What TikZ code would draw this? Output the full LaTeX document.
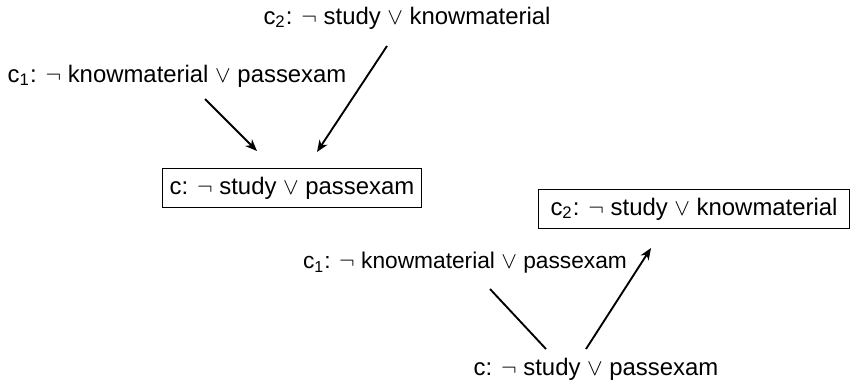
\documentclass[tikz,border=0pt]{standalone}
\usepackage{fontspec}
\setmainfont{Liberation Sans}
\usetikzlibrary{arrows.meta}
\begin{document}
\begin{tikzpicture}[x=0.015cm,y=-0.015cm,
  clause/.style={inner sep=0pt,font=\fontsize{10.2}{12}\selectfont},
  boxed/.style={clause,draw,line width=0.45pt,inner xsep=3pt,inner ysep=3.6pt},
  link/.style={line width=0.8pt},
  arr/.style={link,-{Stealth[length=5pt,width=4pt,inset=1.5pt]}}]
\useasboundingbox (0,0) rectangle (858,386);
% first resolution step
\node[clause] (c2a) at (407,18) {c\textsubscript{2}: $\neg$ study $\vee$ knowmaterial};
\node[clause] (c1a) at (177,76) {c\textsubscript{1}: $\neg$ knowmaterial $\vee$ passexam};
\node[boxed] (ca) at (292,188) {c: $\neg$ study $\vee$ passexam};
\coordinate (p1) at (205,99);
\coordinate (q1) at (257,151);
\coordinate (p2) at (387,46);
\coordinate (q2) at (317,152);
\draw[arr] (p1) -- (q1);
\draw[arr] (p2) -- (q2);
% reverse step
\node[boxed,inner xsep=5pt] (c2b) at (694,209) {c\textsubscript{2}: $\neg$ study $\vee$ knowmaterial};
\node[clause,font=\fontsize{9.7}{12}\selectfont] (c1b) at (465,263) {c\textsubscript{1}: $\neg$ knowmaterial $\vee$ passexam};
\node[clause] (cb) at (596,369) {c: $\neg$ study $\vee$ passexam};
\coordinate (p3) at (490,289);
\coordinate (q3) at (546,349);
\coordinate (p4) at (586,349);
\coordinate (q4) at (651,248);
\draw[link] (p3) -- (q3);
\draw[arr] (p4) -- (q4);
\end{tikzpicture}
\end{document}
